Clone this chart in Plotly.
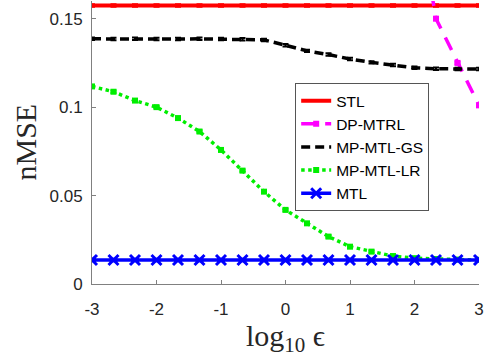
import plotly.graph_objects as go

# log10(epsilon) grid
eps_log = [-3, -8/3, -7/3, -2, -5/3, -4/3, -1, -2/3, -1/3, 0,
           1/3, 2/3, 1, 4/3, 5/3, 2, 7/3, 8/3, 3]

stl = [0.1574] * 19
dp_mtrl = [25.3, 12.1, 6.2, 3.1, 1.62, 0.93, 0.61, 0.45, 0.37, 0.32,
           0.29, 0.27, 0.255, 0.245, 0.235, 0.222, 0.150, 0.125, 0.101]
mp_mtl_gs = [0.1386, 0.1385, 0.1386, 0.1385, 0.1385, 0.1386, 0.1385, 0.1384, 0.1380, 0.1350,
             0.1318, 0.1297, 0.1272, 0.1253, 0.1238, 0.1222, 0.1217, 0.1215, 0.1215]
mp_mtl_lr = [0.1117, 0.1087, 0.1037, 0.1000, 0.0938, 0.0862, 0.0758, 0.0641, 0.0522, 0.0419,
             0.0343, 0.0268, 0.0211, 0.0183, 0.0158, 0.0146, 0.0141, 0.0138, 0.0137]
mtl = [0.0136] * 19

# small spread around each mean
err_small = [0.0007] * 19

x_ticks = [-3, -2, -1, 0, 1, 2, 3]
y_ticks = [0, 0.05, 0.1, 0.15]
y_tick_text = ["0", "0.05", "0.1", "0.15"]

fig = go.Figure()

fig.add_trace(go.Scatter(
    x=eps_log, y=stl, name="STL", mode="lines",
    line=dict(color="#ff0000", width=4),
    error_y=dict(type="data", array=err_small, color="#ff0000", thickness=2, width=3),
))
fig.add_trace(go.Scatter(
    x=eps_log, y=dp_mtrl, name="DP-MTRL", mode="lines+markers",
    line=dict(color="#ff00ff", width=3.5, dash="14px,10px"),
    marker=dict(symbol="square", size=6, color="#ff00ff"),
    error_y=dict(type="data", array=err_small, color="#ff00ff", thickness=2, width=3),
))
fig.add_trace(go.Scatter(
    x=eps_log, y=mp_mtl_gs, name="MP-MTL-GS", mode="lines",
    line=dict(color="#000000", width=3.5, dash="9px,5px"),
    error_y=dict(type="data", array=err_small, color="#000000", thickness=2, width=3),
))
fig.add_trace(go.Scatter(
    x=eps_log, y=mp_mtl_lr, name="MP-MTL-LR", mode="lines+markers",
    line=dict(color="#00ee00", width=3.5, dash="dot"),
    marker=dict(symbol="square", size=6, color="#00ee00"),
    error_y=dict(type="data", array=err_small, color="#00ee00", thickness=2, width=3),
))
fig.add_trace(go.Scatter(
    x=eps_log, y=mtl, name="MTL", mode="lines+markers",
    line=dict(color="#0000ff", width=3.5),
    marker=dict(symbol="x-thin", size=10, color="#0000ff",
                line=dict(color="#0000ff", width=3)),
    error_y=dict(type="data", array=err_small, color="#0000ff", thickness=2, width=4),
))

axis_color = "#808080"
tick_font = dict(family="Liberation Sans, Arial, sans-serif", size=17, color="#262626")
serif = "Liberation Serif, Times New Roman, serif"

fig.update_layout(
    width=484, height=363,
    margin=dict(l=92, r=5, t=1, b=79),
    paper_bgcolor="white", plot_bgcolor="white",
    showlegend=True,
    legend=dict(
        x=0.525, y=0.71, xanchor="left", yanchor="top",
        bgcolor="white", bordercolor="#555555", borderwidth=1,
        font=dict(family="Liberation Sans, Arial, sans-serif", size=15.5, color="#000000"),
        tracegroupgap=0, itemwidth=30,
    ),
    xaxis=dict(
        range=[-3, 3], tickvals=x_ticks, ticktext=[str(v) for v in x_ticks],
        showgrid=False, zeroline=False, showline=True, linecolor=axis_color, linewidth=1,
        ticks="inside", ticklen=4, tickcolor=axis_color, tickfont=tick_font,
        ticklabelstandoff=10, mirror=False,
    ),
    yaxis=dict(
        range=[0, 0.16], tickvals=y_ticks, ticktext=y_tick_text,
        showgrid=False, zeroline=False, showline=True, linecolor=axis_color, linewidth=1,
        ticks="inside", ticklen=4, tickcolor=axis_color, tickfont=tick_font,
        ticklabelstandoff=5, mirror=False,
    ),
    annotations=[
        dict(text="log<sub>10</sub> ϵ", xref="paper", yref="paper", x=0.5, y=-0.19,
             xanchor="center", yanchor="middle", showarrow=False,
             font=dict(family=serif, size=30, color="#262626")),
        dict(text="nMSE", xref="paper", yref="paper", x=-0.173, y=0.5,
             xanchor="center", yanchor="middle", showarrow=False, textangle=-90,
             font=dict(family=serif, size=30, color="#262626")),
    ],
)

fig.write_html("out.html")
